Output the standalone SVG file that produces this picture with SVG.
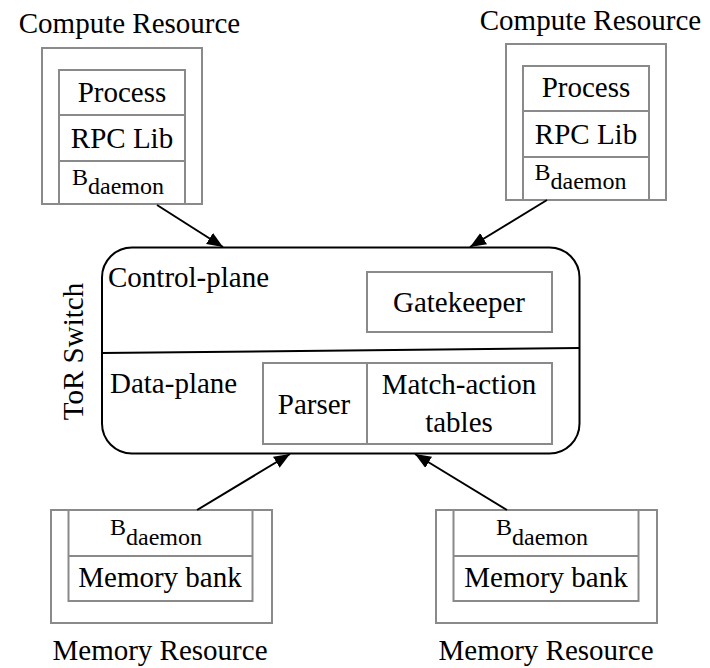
<svg xmlns="http://www.w3.org/2000/svg" width="710" height="668" viewBox="0 0 710 668" font-family="'Liberation Serif', 'Times New Roman', Tinos, 'DejaVu Serif', serif">
<style>
.t{font-size:29px}
.c{text-anchor:middle}
.s{font-size:24px}
.g{fill:#fff;stroke:#8a8a8a;stroke-width:2}
.sw{fill:#fff;stroke:#000;stroke-width:2}
.e{stroke:#000;stroke-width:2;fill:none}
</style>
<defs>
<marker id="ah" markerUnits="userSpaceOnUse" markerWidth="18" markerHeight="14" refX="16" refY="6.5" orient="auto">
<path d="M0,0 L16,6.5 L0,13 z" fill="#000"/>
</marker>
</defs>
<g id="compute-left">
<text class="t c" x="129.5" y="33">Compute Resource</text>
<rect class="g" x="42" y="48" width="160" height="156"/>
<rect class="g" x="59" y="70" width="126" height="134"/>
<line class="g" x1="59" y1="115" x2="185" y2="115"/>
<line class="g" x1="59" y1="161" x2="185" y2="161"/>
<text class="t c" x="122" y="101.5">Process</text>
<text class="t c" x="122" y="147.5">RPC Lib</text>
<text class="s" x="72" y="185">B<tspan dy="9">daemon</tspan></text>
</g>
<g id="compute-right">
<text class="t c" x="590.5" y="29.5">Compute Resource</text>
<rect class="g" x="506" y="44" width="160" height="156"/>
<rect class="g" x="523" y="66" width="126" height="134"/>
<line class="g" x1="523" y1="111" x2="649" y2="111"/>
<line class="g" x1="523" y1="157" x2="649" y2="157"/>
<text class="t c" x="586" y="97">Process</text>
<text class="t c" x="586" y="143.5">RPC Lib</text>
<text class="s" x="534.5" y="180">B<tspan dy="9">daemon</tspan></text>
</g>
<g id="tor-switch">
<rect class="sw" x="102" y="247.5" width="477.5" height="206" rx="30" ry="30"/>
<line class="e" x1="102" y1="353" x2="579.5" y2="348"/>
<text class="t" x="108" y="286.5">Control-plane</text>
<text class="t" x="110" y="393">Data-plane</text>
<text class="t c" transform="translate(83,351.5) rotate(-90)" x="0" y="0">ToR Switch</text>
</g>
<g id="gatekeeper">
<rect class="g" x="367" y="272" width="185" height="60"/>
<text class="t c" x="459" y="311.5">Gatekeeper</text>
</g>
<g id="parser">
<rect class="g" x="263" y="363" width="104" height="81"/>
<text class="t c" x="314" y="413.5">Parser</text>
</g>
<g id="match-action">
<rect class="g" x="367" y="363" width="185" height="81"/>
<text class="t c" x="459" y="393.5">Match-action</text>
<text class="t c" x="459" y="431.5">tables</text>
</g>
<g id="memory-left">
<rect class="g" x="51" y="510" width="221" height="113"/>
<rect class="g" x="68.5" y="510" width="184" height="91"/>
<line class="g" x1="68.5" y1="556" x2="252.5" y2="556"/>
<text class="s" x="110" y="535">B<tspan dy="9.5">daemon</tspan></text>
<text class="t c" x="160" y="586.5">Memory bank</text>
<text class="t c" x="160" y="660">Memory Resource</text>
</g>
<g id="memory-right">
<rect class="g" x="436" y="510" width="221" height="113"/>
<rect class="g" x="453.5" y="510" width="185" height="91"/>
<line class="g" x1="453.5" y1="556" x2="638.5" y2="556"/>
<text class="s" x="496" y="535">B<tspan dy="9.5">daemon</tspan></text>
<text class="t c" x="546" y="586.5">Memory bank</text>
<text class="t c" x="546" y="660">Memory Resource</text>
</g>
<g id="connectors">
<line class="e" x1="157" y1="205" x2="223" y2="247" marker-end="url(#ah)"/>
<line class="e" x1="547" y1="200" x2="470" y2="247" marker-end="url(#ah)"/>
<line class="e" x1="197" y1="510" x2="290" y2="454" marker-end="url(#ah)"/>
<line class="e" x1="507" y1="510" x2="415" y2="454" marker-end="url(#ah)"/>
</g>
</svg>
